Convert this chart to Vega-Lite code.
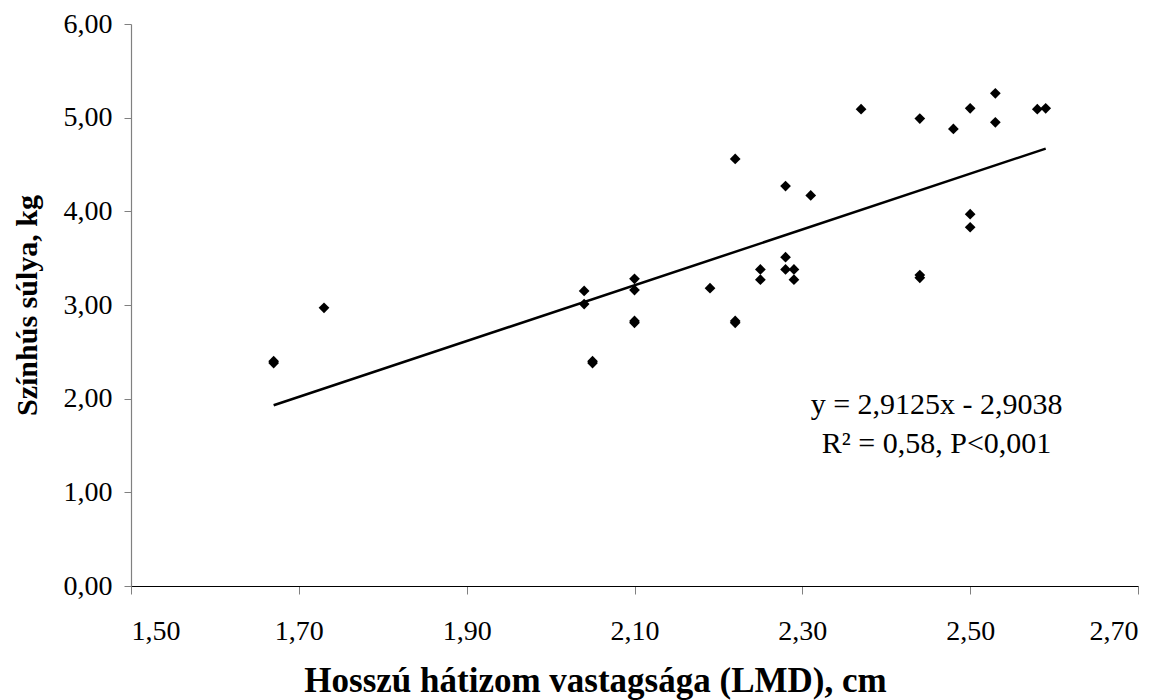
{
  "$schema": "https://vega.github.io/schema/vega-lite/v6.json",
  "width": 1007,
  "height": 562,
  "autosize": {"type": "none"},
  "padding": {"left": 131, "top": 24, "right": 35, "bottom": 114},
  "background": "white",
  "config": {"view": {"stroke": null}, "font": "Liberation Serif"},
  "datasets": {
    "points": [
      {"x": 1.67, "y": 2.40}, {"x": 1.67, "y": 2.38}, {"x": 1.73, "y": 2.97},
      {"x": 2.04, "y": 3.15}, {"x": 2.04, "y": 3.01}, {"x": 2.05, "y": 2.40}, {"x": 2.05, "y": 2.38},
      {"x": 2.10, "y": 3.28}, {"x": 2.10, "y": 3.16}, {"x": 2.10, "y": 2.83}, {"x": 2.10, "y": 2.81},
      {"x": 2.19, "y": 3.18}, {"x": 2.22, "y": 4.56}, {"x": 2.22, "y": 2.83}, {"x": 2.22, "y": 2.81},
      {"x": 2.25, "y": 3.38}, {"x": 2.25, "y": 3.27}, {"x": 2.28, "y": 4.27}, {"x": 2.28, "y": 3.51},
      {"x": 2.28, "y": 3.38}, {"x": 2.29, "y": 3.38}, {"x": 2.29, "y": 3.27}, {"x": 2.31, "y": 4.17},
      {"x": 2.37, "y": 5.09}, {"x": 2.44, "y": 4.99}, {"x": 2.44, "y": 3.32}, {"x": 2.44, "y": 3.29},
      {"x": 2.48, "y": 4.88}, {"x": 2.50, "y": 5.10}, {"x": 2.50, "y": 3.97}, {"x": 2.50, "y": 3.83},
      {"x": 2.53, "y": 5.26}, {"x": 2.53, "y": 4.95}, {"x": 2.58, "y": 5.09}, {"x": 2.59, "y": 5.10}
    ],
    "trend": [{"x": 1.67, "y": 1.93}, {"x": 2.59, "y": 4.67}],
    "eq": [
      {"x": 2.46, "y": 1.93, "label": "y = 2,9125x - 2,9038"},
      {"x": 2.46, "y": 1.52, "label": "R² = 0,58, P<0,001"}
    ]
  },
  "layer": [
    {
      "data": {"name": "points"},
      "mark": {"type": "point", "shape": "diamond", "filled": true, "color": "black", "size": 115, "opacity": 1},
      "encoding": {
        "x": {
          "field": "x", "type": "quantitative",
          "scale": {"domain": [1.5, 2.7], "zero": false, "nice": false},
          "axis": {
            "values": [1.5, 1.7, 1.9, 2.1, 2.3, 2.5, 2.7],
            "labelExpr": "replace(format(datum.value, '.2f'), '.', ',')",
            "grid": false, "domainColor": "black", "domainWidth": 1.2,
            "tickColor": "#808080", "tickSize": 8,
            "labelFontSize": 28, "labelColor": "black", "labelPadding": 23,
            "labelFont": "Liberation Serif",
            "title": "Hosszú hátizom vastagsága (LMD), cm",
            "titleFontSize": 35, "titleFontWeight": "bold", "titleColor": "black",
            "titleFont": "Liberation Serif",
            "titleBaseline": "middle", "titleY": 94, "titleX": 464
          }
        },
        "y": {
          "field": "y", "type": "quantitative",
          "scale": {"domain": [0, 6], "nice": false},
          "axis": {
            "values": [0, 1, 2, 3, 4, 5, 6],
            "labelExpr": "replace(format(datum.value, '.2f'), '.', ',')",
            "grid": false, "domainColor": "#808080", "domainWidth": 1.2,
            "tickColor": "#808080", "tickSize": 7,
            "labelFontSize": 28, "labelColor": "black", "labelPadding": 12,
            "labelFont": "Liberation Serif",
            "title": "Színhús súlya, kg",
            "titleFontSize": 30, "titleFontWeight": "bold", "titleColor": "black",
            "titleFont": "Liberation Serif",
            "titleBaseline": "middle", "titleX": -104
          }
        }
      }
    },
    {
      "data": {"name": "trend"},
      "mark": {"type": "line", "color": "black", "strokeWidth": 2.5},
      "encoding": {
        "x": {"field": "x", "type": "quantitative"},
        "y": {"field": "y", "type": "quantitative"}
      }
    },
    {
      "data": {"name": "eq"},
      "mark": {"type": "text", "fontSize": 30, "align": "center", "baseline": "middle", "font": "Liberation Serif", "color": "black"},
      "encoding": {
        "x": {"field": "x", "type": "quantitative"},
        "y": {"field": "y", "type": "quantitative"},
        "text": {"field": "label"}
      }
    }
  ]
}
